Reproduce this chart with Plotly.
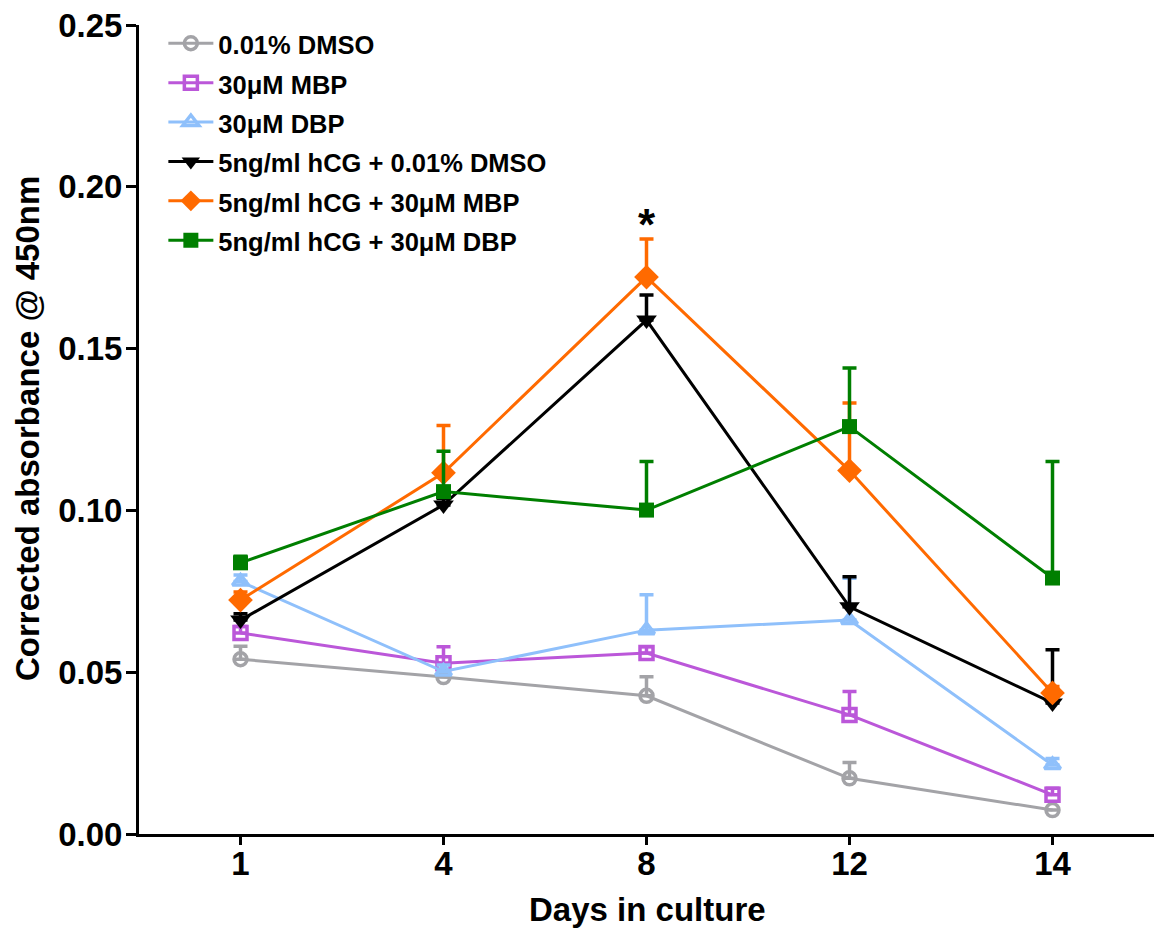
import plotly.graph_objects as go

# Days in culture (categorical x positions)
days = ["1", "4", "8", "12", "14"]

# Mean corrected absorbance @ 450 nm per treatment
dmso = [0.054, 0.0485, 0.0427, 0.0172, 0.0074]
mbp = [0.0621, 0.0528, 0.0559, 0.0368, 0.0121]
dbp = [0.078, 0.0502, 0.063, 0.0661, 0.0213]
hcg_dmso = [0.0661, 0.1017, 0.1588, 0.0702, 0.0405]
hcg_mbp = [0.0723, 0.1116, 0.1721, 0.1123, 0.0436]
hcg_dbp = [0.0838, 0.1058, 0.1001, 0.1259, 0.0791]

# Upper SEM for each treatment
dmso_err = [0.004, 0.0015, 0.0059, 0.0049, 0.0]
mbp_err = [0.002, 0.0051, 0.002, 0.0072, 0.002]
dbp_err = [0.002, 0.002, 0.0109, 0.0129, 0.002]
hcg_dmso_err = [0.002, 0.002, 0.0078, 0.0093, 0.0164]
hcg_mbp_err = [0.0025, 0.0146, 0.0118, 0.0209, 0.002]
hcg_dbp_err = [0.002, 0.0125, 0.015, 0.0181, 0.036]

series = [
    ("0.01% DMSO", dmso, dmso_err, "#A3A3A7", "circle-open", 13),
    ("30\u03bcM MBP", mbp, mbp_err, "#BB57D9", "square-open", 13),
    ("30\u03bcM DBP", dbp, dbp_err, "#8FC0FB", "triangle-up-open", 14),
    ("5ng/ml hCG + 0.01% DMSO", hcg_dmso, hcg_dmso_err, "#000000", "triangle-down", 18),
    ("5ng/ml hCG + 30\u03bcM MBP", hcg_mbp, hcg_mbp_err, "#FF6A00", "diamond", 19),
    ("5ng/ml hCG + 30\u03bcM DBP", hcg_dbp, hcg_dbp_err, "#007F00", "square", 15),
]

FONT = "Liberation Sans"

fig = go.Figure()
for name, vals, err, color, symbol, size in series:
    is_open = symbol.endswith("-open")
    fig.add_trace(go.Scatter(
        x=days, y=vals,
        name="<span style='font-size:25.5px'>" + name + "</span>",
        mode="lines+markers",
        line=dict(color=color, width=3),
        marker=dict(symbol=symbol, size=size, color=color,
                    line=dict(width=3.5 if is_open else 0, color=color)),
        error_y=dict(type="data", symmetric=False, array=err,
                     arrayminus=[0] * len(err), color=color,
                     thickness=3.5, width=7),
    ))

# Significance marker above the day-8 peak (category index 2)
fig.add_annotation(x=2, y=0.1885, xref="x", yref="y", text="<b>*</b>",
                   showarrow=False, font=dict(family=FONT, size=44, color="#000"),
                   yanchor="middle")

# Axis titles
fig.add_annotation(xref="paper", yref="paper", x=-0.110, y=0.501,
                   text="<b>Corrected absorbance @ 450nm</b>", textangle=-90,
                   showarrow=False, xanchor="center", yanchor="middle",
                   font=dict(family=FONT, size=33, color="#000"))
fig.add_annotation(xref="paper", yref="paper", x=0.5005, y=-0.093,
                   text="<b>Days in culture</b>",
                   showarrow=False, xanchor="center", yanchor="middle",
                   font=dict(family=FONT, size=33, color="#000"))

fig.update_layout(
    width=1155, height=928,
    margin=dict(l=139, r=1, t=25, b=94),
    paper_bgcolor="white", plot_bgcolor="white",
    font=dict(family=FONT, color="#000"),
    showlegend=True,
    legend=dict(x=0.024, y=1.008, xanchor="left", yanchor="top",
                bgcolor="rgba(0,0,0,0)", borderwidth=0, itemwidth=45,
                font=dict(family=FONT, size=28, color="#000", weight="bold"),
                tracegroupgap=0),
    xaxis=dict(type="category", range=[-0.5, 4.5], showgrid=False, zeroline=False,
               showline=True, linecolor="#000", linewidth=3,
               ticks="outside", ticklen=8, tickwidth=3, tickcolor="#000",
               ticklabelstandoff=-10,
               tickfont=dict(family=FONT, size=33, color="#000", weight="bold")),
    yaxis=dict(range=[0, 0.25], showgrid=False, zeroline=False,
               showline=True, linecolor="#000", linewidth=3,
               tickvals=[0, 0.05, 0.10, 0.15, 0.20, 0.25],
               ticktext=["0.00", "0.05", "0.10", "0.15", "0.20", "0.25"],
               ticks="outside", ticklen=10, tickwidth=3, tickcolor="#000",
               ticklabelstandoff=-3,
               tickfont=dict(family=FONT, size=33, color="#000", weight="bold")),
)

fig.write_html("out.html")
